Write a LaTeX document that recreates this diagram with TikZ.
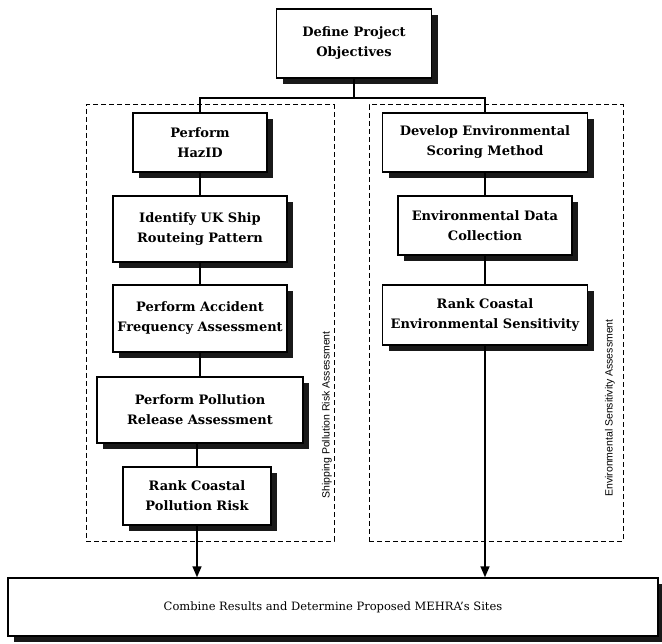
\documentclass[tikz,border=0pt]{standalone}
\usepackage{fontspec}
\setmainfont{DejaVu Serif}
\setsansfont{Liberation Sans}
\usetikzlibrary{arrows.meta,shadows}
\begin{document}
\begin{tikzpicture}[x=1pt,y=-1pt,
  box/.style={draw=black, line width=1.4pt, fill=white, inner sep=0pt, align=center,
    font=\bfseries\fontsize{13}{20}\selectfont,
    drop shadow={shadow xshift=6pt, shadow yshift=-6pt, fill=black!90, opacity=1}},
  group/.style={draw=black, line width=1pt, dash pattern=on 5pt off 3pt, inner sep=0pt},
  conn/.style={draw=black, line width=1.4pt},
  arr/.style={conn, -{Triangle[width=9pt,length=11pt]}},
  sidelabel/.style={font=\sffamily\fontsize{10.5}{12}\selectfont, inner sep=0pt}
]
\useasboundingbox (0,0) rectangle (662,644);

% groups
\node[group, minimum width=248pt, minimum height=436pt] (lgroup) at (210,323) {};
\node[group, minimum width=254pt, minimum height=436pt] (rgroup) at (496,323) {};

% top
\node[box, minimum width=155pt, minimum height=69pt] (define) at (354,43.5) {Define Project\\Objectives};

% left column
\node[box, minimum width=134pt, minimum height=59pt] (hazid) at (200,142.5) {Perform\\HazID};
\node[box, minimum width=174pt, minimum height=66pt] (route) at (200,229) {Identify UK Ship\\Routeing Pattern};
\node[box, minimum width=174pt, minimum height=67pt] (freq) at (200,318.5) {Perform Accident\\Frequency Assessment};
\node[box, minimum width=206pt, minimum height=66pt] (release) at (200,410) {Perform Pollution\\Release Assessment};
\node[box, minimum width=148pt, minimum height=58pt] (rankpol) at (197,496) {Rank Coastal\\Pollution Risk};

% right column
\node[box, minimum width=205pt, minimum height=59pt] (envscore) at (485,142.5) {Develop Environmental\\Scoring Method};
\node[box, minimum width=174pt, minimum height=59pt] (envdata) at (485,225.5) {Environmental Data\\Collection};
\node[box, minimum width=205pt, minimum height=60pt] (rankenv) at (485,315) {Rank Coastal\\Environmental Sensitivity};

% bottom
\node[box, minimum width=650pt, minimum height=58pt, font=\fontsize{11.5}{14}\selectfont] (final) at (333,607) {Combine Results and Determine Proposed MEHRA's Sites};

% side labels
\node[sidelabel, rotate=90] (lbl1) at (327,415) {Shipping Pollution Risk Assessment};
\node[sidelabel, rotate=90] (lbl2) at (610,408) {Environmental Sensitivity Assessment};

% connectors
\coordinate (junc) at (354,98);
\draw[conn] (define.south) -- (junc);
\draw[conn] (hazid.north) |- (junc) -| (envscore.north);
\draw[conn] (hazid.south) -- (route.north);
\draw[conn] (route.south) -- (freq.north);
\draw[conn] (freq.south) -- (release.north);
\draw[conn] (release.south -| rankpol.north) -- (rankpol.north);
\draw[conn] (envscore.south) -- (envdata.north);
\draw[conn] (envdata.south) -- (rankenv.north);
\draw[arr] (rankpol.south) -- (rankpol.south |- final.north);
\draw[arr] (rankenv.south) -- (rankenv.south |- final.north);
\end{tikzpicture}
\end{document}
